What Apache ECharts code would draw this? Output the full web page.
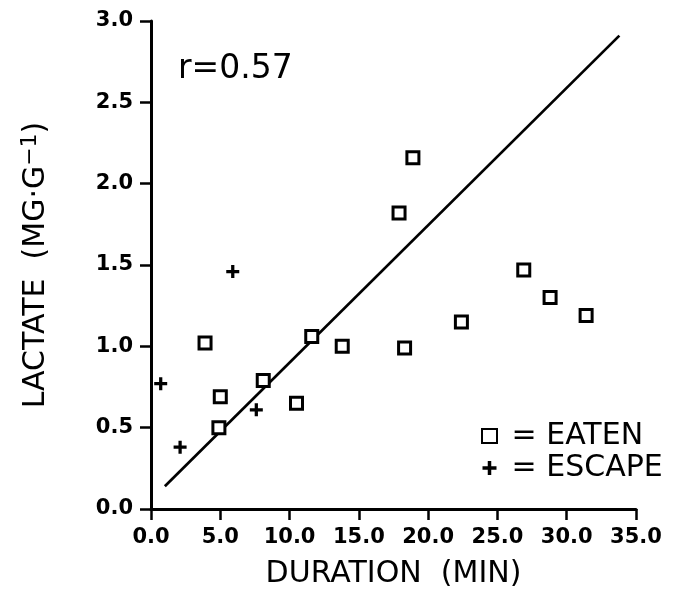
<!DOCTYPE html>
<html>
<head>
<meta charset="utf-8">
<script src="https://cdn.jsdelivr.net/npm/echarts@6/dist/echarts.min.js"></script>
<style>
  html, body { margin: 0; padding: 0; background: #fff; }
  #chart { width: 674px; height: 597px; }
</style>
</head>
<body>
<div id="chart"></div>
<script>
  'use strict';
  // duration (min) vs lactate (mg/g)
  var eatenX = [3.9, 4.9, 5.0, 8.1, 10.5, 11.6, 13.8, 17.9, 18.3, 18.9, 22.4, 26.9, 28.8, 31.4];
  var eatenY = [1.02, 0.50, 0.69, 0.79, 0.65, 1.06, 1.00, 1.82, 0.99, 2.16, 1.15, 1.47, 1.30, 1.19];
  var escapeX = [0.7, 2.1, 5.9, 7.6];
  var escapeY = [0.77, 0.38, 1.46, 0.61];
  // regression line end points
  var fitX = [1.0, 33.8];
  var fitY = [0.14, 2.91];
  var xTicks = [0, 35, 5];
  var yTicks = [0, 3, 0.5];

  var font = '"DejaVu Sans", sans-serif';
  var plus = 'path://M4.5,0L7.5,0L7.5,4.5L12,4.5L12,7.5L7.5,7.5L7.5,12L4.5,12L4.5,7.5L0,7.5L0,4.5L4.5,4.5Z';

  function pairs(xs, ys) {
    return xs.map(function (x, i) { return [x, ys[i]]; });
  }

  var axisCommon = {
    axisLine: { show: true, lineStyle: { color: '#000', width: 3 } },
    axisTick: { show: true, inside: false, length: 11, lineStyle: { color: '#000', width: 2.5 } },
    splitLine: { show: false },
    axisLabel: {
      color: '#000', fontFamily: font, fontSize: 21, fontWeight: 'bold',
      formatter: function (v) { return v.toFixed(1); }
    },
    nameTextStyle: { color: '#000', fontFamily: font, fontSize: 30 }
  };

  var option = {
    animation: false,
    backgroundColor: '#fff',
    title: {
      text: 'r=0.57',
      left: 173,
      top: 48,
      textStyle: { color: '#000', fontFamily: font, fontSize: 33, fontWeight: 'normal' }
    },
    legend: {
      data: ['EATEN', 'ESCAPE'],
      orient: 'vertical',
      left: 476,
      top: 416,
      itemWidth: 15,
      itemHeight: 14,
      itemGap: 2,
      formatter: function (name) { return ' = ' + name; },
      textStyle: { color: '#000', fontFamily: font, fontSize: 30, lineHeight: 30 }
    },
    grid: { left: 151, right: 38, top: 21, bottom: 88, containLabel: false },
    xAxis: echarts.util.merge({
      type: 'value',
      min: xTicks[0], max: xTicks[1], interval: xTicks[2],
      name: 'DURATION  (MIN)',
      nameLocation: 'middle',
      nameGap: 50,
      axisLabel: { margin: 18 }
    }, axisCommon),
    yAxis: echarts.util.merge({
      type: 'value',
      min: yTicks[0], max: yTicks[1], interval: yTicks[2],
      name: '{a|LACTATE  (MG·G}{s|−1}{a|)}',
      nameLocation: 'middle',
      nameGap: 98,
      axisLabel: { margin: 18 },
      nameTextStyle: {
        rich: {
          a: { fontFamily: font, fontSize: 30, color: '#000' },
          s: { fontFamily: font, fontSize: 22, color: '#000', verticalAlign: 'top', padding: [0, 0, 12, 0] }
        }
      }
    }, axisCommon),
    series: [
      {
        name: 'FIT',
        type: 'line',
        data: pairs(fitX, fitY),
        symbol: 'none',
        lineStyle: { color: '#000', width: 2.7 },
        z: 1
      },
      {
        name: 'EATEN',
        type: 'scatter',
        data: pairs(eatenX, eatenY),
        symbol: 'rect',
        symbolSize: 12,
        itemStyle: { color: '#fff', borderColor: '#000', borderWidth: 3, opacity: 1 },
        z: 3
      },
      {
        name: 'ESCAPE',
        type: 'scatter',
        data: pairs(escapeX, escapeY),
        symbol: plus,
        symbolSize: 13,
        itemStyle: { color: '#000', opacity: 1 },
        z: 3
      }
    ]
  };

  var myChart = echarts.init(document.getElementById('chart'));
  myChart.setOption(option);
</script>
</body>
</html>
